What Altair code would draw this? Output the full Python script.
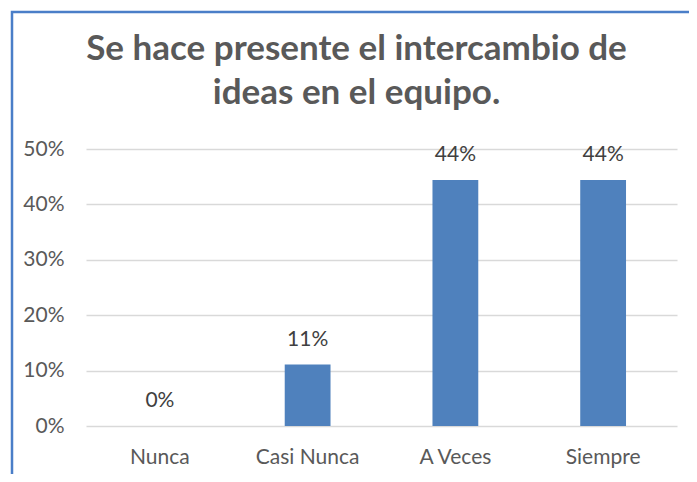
import altair as alt
import pandas as pd

categories = ["Nunca", "Casi Nunca", "A Veces", "Siempre"]
values = [0.0, 0.111, 0.444, 0.444]
labels = ["0%", "11%", "44%", "44%"]

df = pd.DataFrame({"cat": categories, "val": values, "lab": labels})
border_df = pd.DataFrame({"k": [1]})

FONT = "Lato"
GREY = "#595959"

x = alt.X("cat:N", sort=categories, title=None,
          scale=alt.Scale(paddingInner=0.69, paddingOuter=0.345),
          axis=alt.Axis(labelAngle=0, ticks=False, domain=False, grid=False,
                        labelFont=FONT, labelFontSize=21, labelColor=GREY,
                        labelPadding=20))
y = alt.Y("val:Q", title=None,
          scale=alt.Scale(domain=[0, 0.5]),
          axis=alt.Axis(format=".0%", values=[0, 0.1, 0.2, 0.3, 0.4, 0.5],
                        ticks=False, domain=False, grid=True,
                        gridColor="#D9D9D9", gridWidth=1.5,
                        labelFont=FONT, labelFontSize=21, labelColor=GREY,
                        labelPadding=22))

bars = alt.Chart(df).mark_bar(color="#4F81BD").encode(x=x, y=y)
text = alt.Chart(df).mark_text(baseline="bottom", dy=-15, font=FONT,
                                fontSize=21, color="#404040").encode(
    x=alt.X("cat:N", sort=categories), y="val:Q", text="lab:N")

border = alt.Chart(border_df).mark_rect(
    fill="transparent", stroke="#4A7EC8", strokeWidth=2.5
).encode(x=alt.value(-74), x2=alt.value(700), y=alt.value(-137), y2=alt.value(500))

chart = alt.layer(border, bars, text).properties(
    width=591, height=277,
    padding={"left": 78, "top": 141, "right": 12, "bottom": 48},
    autosize=alt.AutoSizeParams(type="none"),
    title=alt.TitleParams(
        ["Se hace presente el intercambio de", "ideas en el equipo."],
        font=FONT, fontSize=35, fontWeight="bold", color=GREY,
        anchor="middle", baseline="alphabetic", lineHeight=44,
        offset=-128, dx=-25),
).configure_view(stroke=None)

chart.save("out.html", embed_options={"renderer": "svg", "actions": False})
